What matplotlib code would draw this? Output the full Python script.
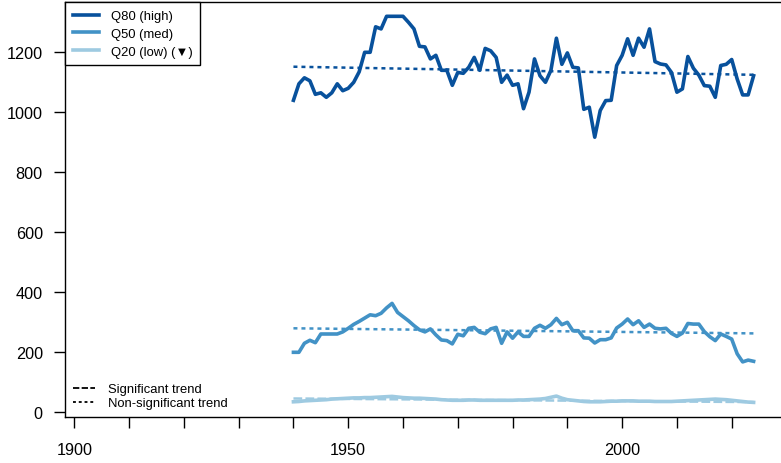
import matplotlib
matplotlib.use("Agg")
import matplotlib.pyplot as plt
from matplotlib.lines import Line2D

plt.rcParams['font.family'] = ['Liberation Sans', 'DejaVu Sans']

# water years
years = list(range(1940, 2025))

# Q80 (high) flow quantile
q80 = [1040, 1095, 1115, 1105, 1060, 1065, 1050, 1065, 1095, 1072,
       1080, 1100, 1135, 1200, 1200, 1285, 1278, 1320, 1320, 1320,
       1320, 1300, 1278, 1220, 1218, 1178, 1190, 1140, 1140, 1090,
       1133, 1130, 1150, 1183, 1140, 1213, 1205, 1183, 1100, 1124,
       1090, 1095, 1012, 1067, 1178, 1122, 1100, 1140, 1247, 1160,
       1198, 1150, 1148, 1010, 1017, 917, 1006, 1039, 1040, 1156,
       1190, 1245, 1190, 1247, 1217, 1278, 1169, 1161, 1158, 1133,
       1067, 1078, 1186, 1147, 1124, 1089, 1087, 1050, 1156, 1160,
       1176, 1111, 1058, 1058, 1122]

# Q50 (median) flow quantile
q50 = [200, 200, 230, 240, 232, 261, 261, 261, 261, 268,
       280, 293, 303, 314, 325, 322, 330, 348, 363, 333,
       319, 305, 289, 275, 268, 278, 258, 241, 239, 228,
       260, 255, 280, 283, 267, 262, 278, 283, 230, 268,
       247, 268, 253, 253, 280, 290, 280, 292, 313, 292,
       300, 272, 272, 248, 247, 231, 242, 242, 248, 281,
       294, 311, 292, 305, 283, 294, 280, 278, 280, 263,
       253, 264, 296, 294, 294, 269, 252, 239, 261, 253,
       244, 195, 168, 174, 170]

# Q20 (low) flow quantile
q20 = [35, 36, 38, 39, 40, 41, 42, 44, 45, 46,
       47, 48, 48, 49, 49, 50, 51, 52, 53, 51,
       49, 48, 47, 47, 46, 45, 44, 42, 41, 40,
       40, 40, 41, 41, 40, 40, 40, 40, 40, 40,
       40, 41, 41, 42, 43, 44, 46, 50, 54, 47,
       42, 40, 38, 36, 35, 35, 35, 36, 37, 37,
       38, 38, 38, 37, 37, 37, 36, 36, 36, 36,
       37, 38, 39, 40, 41, 42, 43, 44, 43, 42,
       40, 38, 36, 34, 33]

# trend line end points (first year, last year)
trend80 = [1152, 1125]
trend50 = [280, 263]
trend20 = [46, 34]

series_labels = ["Q80 (high)", "Q50 (med)", "Q20 (low) (\u25BC)"]
colors = ["#08519c", "#4292c6", "#9ecae1"]

dotted = (0, (1.6, 1.6))
dashed = (0, (3.5, 1.3))

fig = plt.figure(figsize=(7.81, 4.64), dpi=100)
ax = fig.add_axes([65 / 781, 1 - 418.3 / 464, 1 - 65 / 781 + 0.01, (418.3 - 3.3) / 464])

ends = [years[0], years[-1]]
ax.plot(years, q80, color=colors[0], lw=2.6)
ax.plot(years, q50, color=colors[1], lw=2.6)
ax.plot(years, q20, color=colors[2], lw=2.6)
ax.plot(ends, trend80, color=colors[0], lw=1.8, linestyle=dotted)
ax.plot(ends, trend50, color=colors[1], lw=1.8, linestyle=dotted)
ax.plot(ends, trend20, color=colors[2], lw=1.8, linestyle=dashed)

ax.set_xlim(1898.3, 2029.0 + 0.01 * 781 / 5.484)
ax.set_ylim(-16.7, 1366.7)

ax.set_xticks(range(1900, 2021, 10))
ax.set_xticklabels([str(y) if y % 50 == 0 else "" for y in range(1900, 2021, 10)])
ax.set_yticks(range(0, 1201, 200))
ax.tick_params(axis="both", length=8, width=1.0, labelsize=11.7, color="black")
ax.tick_params(axis="x", pad=9.5)
ax.tick_params(axis="y", pad=8)
for side in ["left", "bottom", "top", "right"]:
    ax.spines[side].set_linewidth(1.0)

# legend for the quantile series
handles = [Line2D([], [], color=c, lw=2.6) for c in colors]
leg1 = ax.legend(handles, series_labels, loc="upper left", bbox_to_anchor=(0, 1),
                 borderaxespad=0, fontsize=9.4, frameon=True, fancybox=False,
                 edgecolor="black", framealpha=1, handlelength=2.0,
                 handletextpad=0.9, labelspacing=0.42, borderpad=0.6)
leg1.get_frame().set_linewidth(1.0)
ax.add_artist(leg1)

# legend for trend significance
trend_handles = [Line2D([], [], color="black", lw=1.3, linestyle=dashed),
                 Line2D([], [], color="black", lw=1.3, linestyle=dotted)]
ax.legend(trend_handles, ["Significant trend", "Non-significant trend"],
          loc="lower left", bbox_to_anchor=(0, 0), borderaxespad=0,
          fontsize=9.4, frameon=False, handlelength=1.7, handletextpad=1.0,
          labelspacing=0.15, borderpad=0.6)

fig.savefig("out.png", dpi=100)
